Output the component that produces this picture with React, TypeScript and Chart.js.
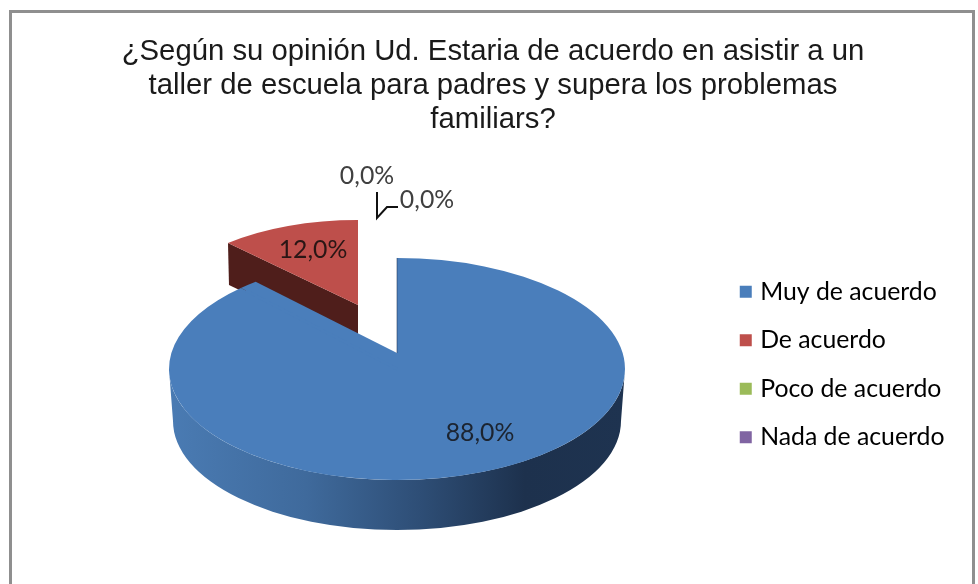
import React, { useEffect, useRef } from "react";
import { Chart, registerables } from "chart.js";

Chart.register(...registerables);

const categories = ["Muy de acuerdo", "De acuerdo", "Poco de acuerdo", "Nada de acuerdo"];
const values = [88, 12, 0, 0];
const sliceColors = ["#4A7EBB", "#BE4F4B", "#9BBB59", "#8064A2"];
const titleLines = [
  "¿Según su opinión Ud. Estaria de acuerdo en asistir a un",
  "taller de escuela para padres y supera los problemas",
  "familiars?",
];
const labelPositions = [
  { x: 480, y: 433, color: "#1c2430" },
  { x: 313, y: 250, color: "#2a1615" },
  { x: 367, y: 176, color: "#404040" },
  { x: 427, y: 200, color: "#404040" },
];

const PIE = { x: 397, y: 369, rx: 228, ryScale: 0.487, depth: 50, apexLift: 16, endExtend: (4.9 * Math.PI) / 180 };
const RED = { dx: -39, dy: -64, sx: 0.833, sy: 0.373, depth: 42 };

const formatPct = (v: number) => v.toFixed(1).replace(".", ",") + "%";

const pie3d = {
  id: "pie3d",
  beforeDraw(chart: any) {
    const { ctx, width } = chart;
    ctx.save();
    ctx.fillStyle = "#ffffff";
    ctx.fillRect(0, 0, width, chart.height);
    ctx.strokeStyle = "#8f8f8f";
    ctx.lineWidth = 3;
    ctx.strokeRect(10.5, 11.5, 963, 600);
    ctx.restore();
  },
  beforeDatasetsDraw(chart: any) {
    const { ctx } = chart;
    const arcs = chart.getDatasetMeta(0).data;
    const blue = arcs[0];
    const red = arcs[1];
    const r = blue.outerRadius;
    const sx = PIE.rx / r;
    const ry = r * PIE.ryScale;

    // exploded slice: wall then top face
    const ax = PIE.x + RED.dx;
    const ay = PIE.y + RED.dy;
    const lx = ax + r * RED.sx * Math.cos(red.startAngle);
    const ly = ay + r * RED.sy * Math.sin(red.startAngle);
    ctx.save();
    ctx.fillStyle = "#4F1E1B";
    ctx.beginPath();
    ctx.moveTo(lx, ly);
    ctx.lineTo(ax, ay);
    ctx.lineTo(ax, ay + RED.depth);
    ctx.lineTo(lx + 1, ly + RED.depth);
    ctx.closePath();
    ctx.fill();
    ctx.restore();

    ctx.save();
    ctx.translate(ax, ay);
    ctx.scale(RED.sx, RED.sy);
    ctx.translate(-red.x, -red.y);
    red.draw(ctx);
    ctx.restore();

    // main slice wall
    const grad = ctx.createLinearGradient(PIE.x - PIE.rx, 0, PIE.x + PIE.rx, 0);
    grad.addColorStop(0, "#4A7BB3");
    grad.addColorStop(0.3, "#3F6A9C");
    grad.addColorStop(0.55, "#2E4E76");
    grad.addColorStop(0.78, "#1D314D");
    grad.addColorStop(1, "#1E3350");
    ctx.save();
    ctx.fillStyle = grad;
    ctx.beginPath();
    ctx.ellipse(PIE.x, PIE.y, PIE.rx, ry * sx, 0, 0, Math.PI);
    ctx.ellipse(PIE.x, PIE.y + PIE.depth + 2, PIE.rx - 4, ry * sx - 2, 0, Math.PI, 0, true);
    ctx.closePath();
    ctx.fill();
    ctx.restore();

    // main slice top face, drawn by the arc element
    ctx.save();
    ctx.translate(PIE.x, PIE.y);
    ctx.scale(sx, PIE.ryScale * sx);
    ctx.translate(-blue.x, -blue.y);
    blue.draw(ctx);
    ctx.restore();

    // perspective correction of the wedge tip
    const ryp = ry * sx;
    const ex = PIE.x + PIE.rx * Math.cos(blue.endAngle);
    const ey = PIE.y + ryp * Math.sin(blue.endAngle);
    ctx.save();
    ctx.fillStyle = sliceColors[0];
    ctx.strokeStyle = sliceColors[0];
    ctx.beginPath();
    ctx.moveTo(PIE.x, PIE.y - PIE.apexLift);
    ctx.lineTo(PIE.x, PIE.y);
    ctx.lineTo(ex, ey);
    ctx.ellipse(PIE.x, PIE.y, PIE.rx, ryp, 0, blue.endAngle, blue.endAngle + PIE.endExtend);
    ctx.closePath();
    ctx.fill();
    // hide the seam between the element's edge and the tip
    ctx.lineWidth = 3;
    ctx.beginPath();
    ctx.moveTo(PIE.x + (ex - PIE.x) * 0.97, PIE.y + (ey - PIE.y) * 0.97);
    ctx.lineTo(PIE.x, PIE.y);
    ctx.stroke();
    ctx.strokeStyle = "rgba(30,50,80,0.55)";
    ctx.lineWidth = 1;
    ctx.beginPath();
    ctx.moveTo(PIE.x, PIE.y - ryp);
    ctx.lineTo(PIE.x, PIE.y - PIE.apexLift);
    ctx.stroke();
    ctx.restore();
    return false;
  },
  afterDraw(chart: any) {
    const { ctx } = chart;
    ctx.save();
    ctx.font = "24.8px Lato";
    ctx.textAlign = "center";
    ctx.textBaseline = "middle";
    values.forEach((v, i) => {
      ctx.fillStyle = labelPositions[i].color;
      ctx.fillText(formatPct(v), labelPositions[i].x, labelPositions[i].y);
    });
    ctx.strokeStyle = "#111111";
    ctx.lineWidth = 2;
    ctx.beginPath();
    ctx.moveTo(377, 192);
    ctx.lineTo(377, 218);
    ctx.lineTo(387, 207);
    ctx.lineTo(398, 207);
    ctx.stroke();
    ctx.restore();
  },
};

export default function App() {
  const ref = useRef<HTMLCanvasElement>(null);
  useEffect(() => {
    if (!ref.current) return;
    const chart = new Chart(ref.current, {
      type: "pie",
      data: {
        labels: categories,
        datasets: [{ data: values, backgroundColor: sliceColors, borderWidth: 0 }],
      },
      options: {
        responsive: false,
        animation: false,
        radius: 228,
        layout: { padding: { left: 31.5, right: 23.5, top: 0, bottom: 22 } },
        plugins: {
          tooltip: { enabled: false },
          title: {
            display: true,
            text: titleLines,
            color: "#1a1a1a",
            font: { family: "'Liberation Sans'", size: 29.3, weight: "normal", lineHeight: 1.16 },
            padding: { top: 35, bottom: 30 },
          },
          legend: {
            position: "right",
            fullSize: false,
            labels: {
              color: "#454545",
              font: { family: "Lato", size: 24.8 },
              boxWidth: 4,
              boxHeight: 4,
              padding: 23.7,
              generateLabels() {
                return categories.map((text, i) => ({
                  text,
                  index: i,
                  fillStyle: sliceColors[i],
                  strokeStyle: sliceColors[i],
                  lineWidth: 8,
                  hidden: false,
                }));
              },
            },
          },
        },
      } as any,
      plugins: [pie3d as any],
    });
    return () => chart.destroy();
  }, []);
  return (
    <canvas
      ref={ref}
      width={978}
      height={584}
      style={{ position: "fixed", left: 0, top: 0, width: 978, height: 584, filter: "blur(0.7px)" }}
    />
  );
}
